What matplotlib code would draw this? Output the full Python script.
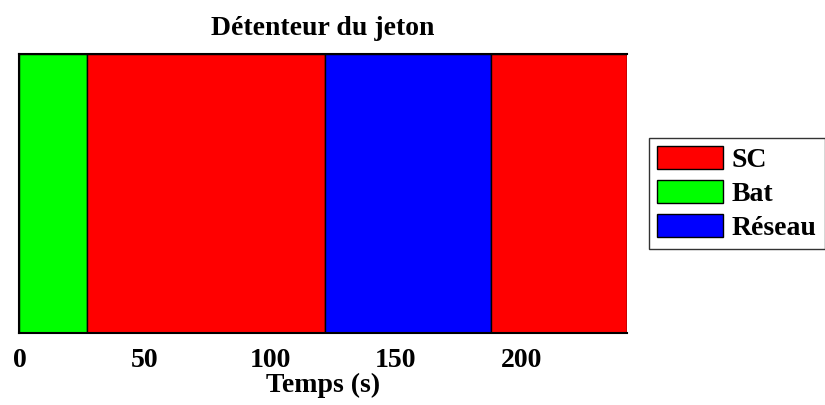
import matplotlib.pyplot as plt
from matplotlib.patches import Patch

plt.rcParams['font.family'] = 'Liberation Serif'
plt.rcParams['font.weight'] = 'bold'

# Qui détient le jeton, par intervalle de temps (s)
debuts = [0, 27, 122, 188]
fins = [27, 122, 188, 242]
detenteurs = ['Bat', 'SC', 'Réseau', 'SC']

couleurs = {'SC': '#ff0000', 'Bat': '#00ff00', 'Réseau': '#0000ff'}
ordre_legende = ['SC', 'Bat', 'Réseau']
ticks_x = [0, 50, 100, 150, 200]

fig = plt.figure(figsize=(8.25, 4.05), dpi=100)
ax = fig.add_axes([0.0235, 0.178, 0.736, 0.688])

for d, f, qui in zip(debuts, fins, detenteurs):
    ax.barh(0.5, f - d, left=d, height=1, color=couleurs[qui],
            edgecolor='black', linewidth=1)

ax.set_xlim(0, fins[-1])
ax.set_ylim(0, 1)
ax.set_xticks(ticks_x)
ax.set_yticks([])
ax.tick_params(axis='x', length=0, labelsize=20, pad=11)
for lab in ax.get_xticklabels():
    lab.set_fontweight('bold')
ax.spines['right'].set_visible(False)
for s in ['left', 'top', 'bottom']:
    ax.spines[s].set_linewidth(1.5)

ax.set_xlabel('Temps (s)', fontsize=20, fontweight='bold', labelpad=0)
ax.set_title('Détenteur du jeton', fontsize=20, fontweight='bold', pad=14)

poignees = [Patch(facecolor=couleurs[k], edgecolor='black', label=k)
            for k in ordre_legende]
leg = ax.legend(handles=poignees, loc='center left', bbox_to_anchor=(1.037, 0.5),
                fontsize=20, frameon=True, fancybox=False, edgecolor='black',
                handlelength=2.36, handleheight=0.88, handletextpad=0.32,
                labelspacing=0.25, borderpad=0.3, borderaxespad=0)
leg.get_frame().set_linewidth(1)
for t in leg.get_texts():
    t.set_fontweight('bold')

fig.savefig('out.png', dpi=100)
